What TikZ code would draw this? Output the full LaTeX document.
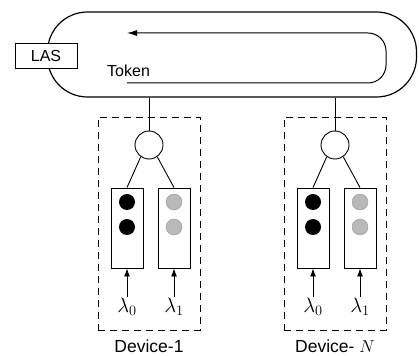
\documentclass[tikz,border=0pt]{standalone}
\usepackage{amsmath}
\usepackage{fontspec}
\setmainfont{Liberation Sans}
\usetikzlibrary{arrows.meta,positioning}

\tikzset{
	queue/.style={draw,line width=0.9pt,minimum width=32pt,minimum height=80pt,inner sep=0pt},
	hub/.style={draw,circle,line width=0.9pt,minimum size=28pt,inner sep=0pt},
	pkt/.style={circle,minimum size=16pt,inner sep=0pt},
	devbox/.style={draw,dash pattern=on 7pt off 5pt,line width=0.9pt,minimum width=102pt,minimum height=213pt,inner sep=0pt},
	lam/.style={font=\fontsize{22}{24}\selectfont,inner sep=1pt},
	feed/.style={line width=0.9pt,-{Latex[length=8pt,width=6pt]}},
}

\begin{document}
\begin{tikzpicture}[x=1pt,y=-1pt,font=\fontsize{16}{19}\selectfont]
	\useasboundingbox (0,0) rectangle (419,355);
	
	%Bus
	\node[draw,line width=1.2pt,rounded corners=40pt,minimum width=369pt,minimum height=85pt] (bus) at (232,54.5) {};
	\node[draw,fill=white,line width=0.9pt,minimum width=62pt,minimum height=25pt] (las) at (46,55.5) {LAS};
	\node[anchor=base west,inner sep=0pt] (token) at (107,77) {Token};
	
	%Jeton
	\coordinate (tokA) at (127,83);
	\coordinate (tokB) at (127,33);
	\draw[line width=1pt,rounded corners=18pt,-{Latex[length=10pt,width=6pt]}] (tokA) -- (386,83) -- (386,33) -- (tokB);
	
	%Stations
	\foreach \n/\x/\name in {1/149/{Device-1},N/335/{Device- $N$}}{
		\node[devbox] (dev\n) at (\x,223.5) {};
		\node[hub] (hub\n) at (\x,145) {};
		\node[queue] (qa\n) at (\x-22,228) {};
		\node[queue] (qb\n) at (\x+25,228) {};
		\node[pkt,fill=black] (pa\n) at (\x-22,202) {};
		\node[pkt,fill=black] (pb\n) at (\x-22,227) {};
		\node[pkt,fill=gray!55,draw=gray!80] (pc\n) at (\x+25,202) {};
		\node[pkt,fill=gray!55,draw=gray!80] (pd\n) at (\x+25,227) {};
		\node[lam] (la\n) at (\x-22,307) {$\lambda_0$};
		\node[lam] (lb\n) at (\x+25,307) {$\lambda_1$};
		\node[anchor=base,inner sep=0pt,font=\fontsize{17.5}{20}\selectfont] (name\n) at (\x,352) {\name};
		
		\draw[line width=0.9pt] (bus.south -| hub\n.north) -- (hub\n.north);
		\draw[line width=0.9pt] (hub\n.235) -- (qa\n.north);
		\draw[line width=0.9pt] (hub\n.-55) -- (qb\n.north);
		\draw[feed] (la\n.north) -- (qa\n.south);
		\draw[feed] (lb\n.north) -- (qb\n.south);
	}
	
\end{tikzpicture}
\end{document}
